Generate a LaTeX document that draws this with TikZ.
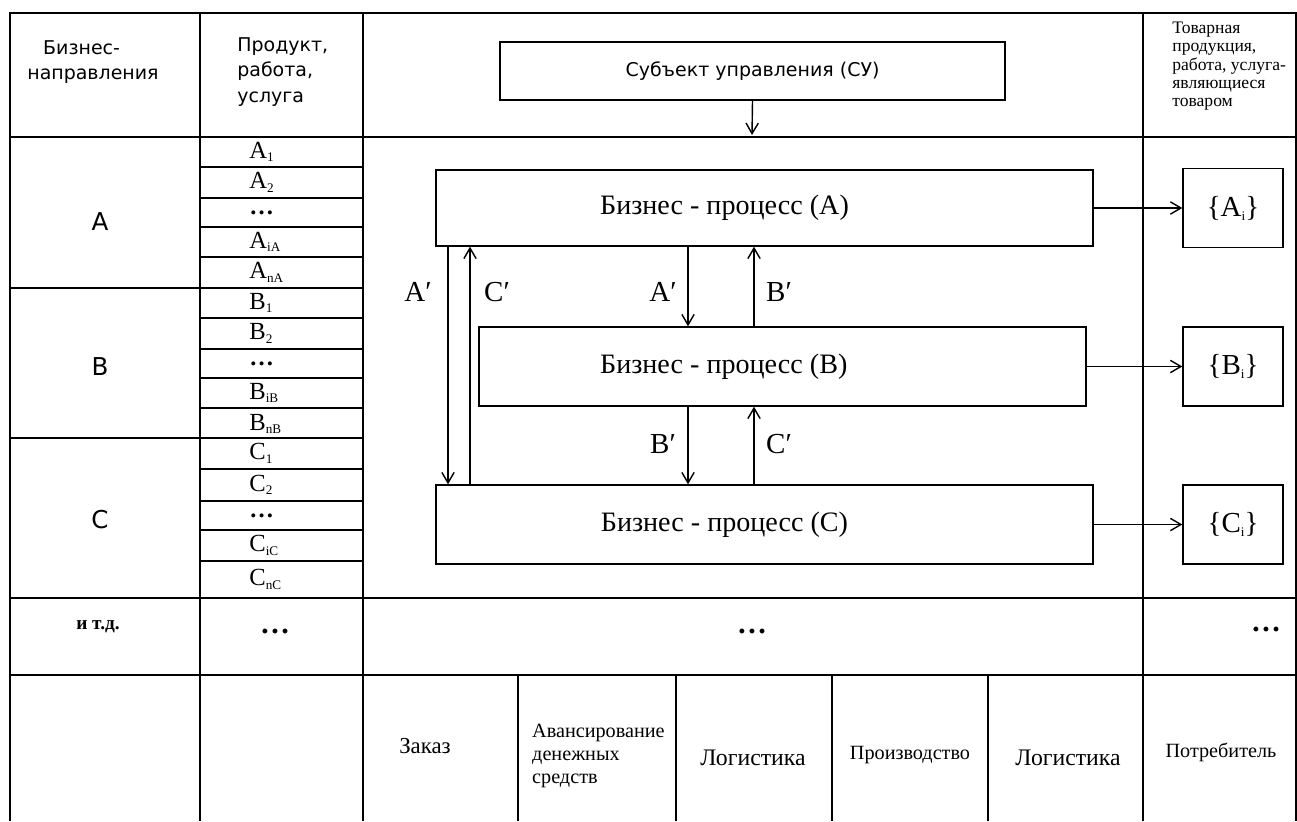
\documentclass[tikz,border=0pt]{standalone}
\usepackage{fontspec}
\setmainfont{Liberation Serif}
\newfontfamily\hdrfont{DejaVu Sans}
\usetikzlibrary{arrows.meta,positioning}
\newcommand{\subidx}[1]{\raisebox{-0.3ex}{\fontsize{7.5}{8}\selectfont #1}}

\begin{document}
\begin{tikzpicture}[x=0.02cm,y=-0.02cm,
    >={Straight Barb[length=6pt,width=7pt]},
    grid line/.style={line width=1pt},
    proc/.style={draw,line width=0.8pt,inner sep=0pt,font=\fontsize{16}{18}\selectfont},
    res/.style={draw,line width=0.8pt,inner sep=0pt,minimum width=2cm,minimum height=1.58cm,font=\fontsize{16.5}{18}\selectfont},
    hdr/.style={font=\hdrfont\fontsize{10.8}{14.5}\selectfont},
    item/.style={anchor=west,inner sep=0pt,font=\fontsize{14}{15}\selectfont},
    flow/.style={->,line width=0.8pt},
    lbl/.style={font=\fontsize{16.5}{18}\selectfont},
    foot/.style={font=\fontsize{11.5}{13}\selectfont},
    dots/.style={font=\bfseries\fontsize{17}{18}\selectfont}]

\useasboundingbox (0,0) rectangle (1297,821);

\draw[grid line] (10,821) -- (10,13) -- (1296,13) -- (1296,821);
\draw[grid line] (200,13) -- (200,821) (363,13) -- (363,821) (1143,13) -- (1143,821);
\draw[grid line] (10,137) -- (1296,137) (10,675) -- (1296,675);
\draw[line width=1.5pt] (10,598) -- (1296,598);
\draw[grid line] (10,288) -- (200,288) (10,438) -- (200,438);
\foreach \y in {167,198,227,257,288,318,349,378,408,438,469,501,530,561}
  \draw[grid line] (200,\y) -- (363,\y);
\foreach \x in {518,676,832,988}
  \draw[grid line] (\x,675) -- (\x,821);

\node[hdr,align=left,anchor=west,inner sep=0pt] (h1) at (27,62) {\hspace*{9pt}Бизнес-\\направления};
\node[hdr,align=left,anchor=west,inner sep=0pt] (h2) at (237,72) {Продукт,\\работа,\\услуга};
\node[align=left,anchor=north west,inner sep=0pt,font=\fontsize{10}{10.3}\selectfont] (h4) at (1172,22)
  {Товарная\\продукция,\\работа, услуга-\\являющиеся\\товаром};

\node[font=\hdrfont\fontsize{14}{16}\selectfont] (dA) at (100,222) {A};
\node[font=\hdrfont\fontsize{14}{16}\selectfont] (dB) at (100,367) {B};
\node[font=\hdrfont\fontsize{14}{16}\selectfont] (dC) at (100,520) {C};

\foreach \y/\t [count=\i] in {152/A\subidx{1},182.5/A\subidx{2},212.5/\textbf{…},242/A\subidx{iA},272.5/A\subidx{nA},
    303/B\subidx{1},333.5/B\subidx{2},363.5/\textbf{…},393/B\subidx{iB},424/B\subidx{nB},
    453.5/C\subidx{1},485/C\subidx{2},515.5/\textbf{…},545.5/C\subidx{iC},579.5/C\subidx{nC}}
  \node[item] (it\i) at (249,\y) {\t};

\node[hdr,draw,line width=0.8pt,minimum width=10.1cm,minimum height=1.16cm] (su) at (752.5,71) {Субъект управления (СУ)};
\coordinate (suEnd) at (752,135);

\node[proc,minimum width=13.14cm,minimum height=1.52cm] (pA) at (764.5,208) {Бизнес - процесс (A)\hspace*{1.6cm}};
\node[proc,minimum width=12.14cm,minimum height=1.58cm] (pB) at (782.5,366.5) {Бизнес - процесс (B)\hspace*{2.35cm}};
\node[proc,minimum width=13.14cm,minimum height=1.58cm] (pC) at (764.5,524.5) {Бизнес - процесс (C)\hspace*{1.6cm}};

\node[res] (rA) at (1233,208) {\{A\subidx{i}\}};
\node[res] (rB) at (1233,366.5) {\{B\subidx{i}\}};
\node[res] (rC) at (1233,524.5) {\{C\subidx{i}\}};

\coordinate (xa) at (448,0);
\coordinate (xc) at (470,0);
\coordinate (xm) at (688,0);
\coordinate (xn) at (754,0);

\draw[flow] (su.south) -- (suEnd);
\draw[flow] (pA.south -| xa) -- (pC.north -| xa);
\draw[flow] (pC.north -| xc) -- (pA.south -| xc);
\draw[flow] (pA.south -| xm) -- (pB.north -| xm);
\draw[flow] (pB.north -| xn) -- (pA.south -| xn);
\draw[flow] (pB.south -| xm) -- (pC.north -| xm);
\draw[flow] (pC.north -| xn) -- (pB.south -| xn);

\path
(pA.east) edge[flow] (rA.west)
(pB.east) edge[flow] (rB.west)
(pC.east) edge[flow] (rC.west)
;

\node[lbl] (l1) at (418,292) {A′};
\node[lbl] (l2) at (497,292) {C′};
\node[lbl] (l3) at (663,292) {A′};
\node[lbl] (l4) at (779,292) {B′};
\node[lbl] (l5) at (663,444) {B′};
\node[lbl] (l6) at (779,444) {C′};

\node[font=\bfseries\fontsize{11}{12}\selectfont] (etc) at (98,627) {и т.д.};
\node[dots] (d2) at (275,631) {…};
\node[dots] (d3) at (752,631) {…};
\node[dots] (d4) at (1266,629) {…};

\node[foot,font=\fontsize{13}{15}\selectfont] (f1) at (425,746) {Заказ};
\node[foot,align=left,anchor=west] (f2) at (526,756) {Авансирование\\денежных\\средств};
\node[foot,font=\fontsize{13.5}{15}\selectfont] (f3) at (753,758) {Логистика};
\node[foot] (f4) at (910,755) {Производство};
\node[foot,font=\fontsize{13.5}{15}\selectfont] (f5) at (1068,758) {Логистика};
\node[foot] (f6) at (1221,752) {Потребитель};

\end{tikzpicture}
\end{document}
